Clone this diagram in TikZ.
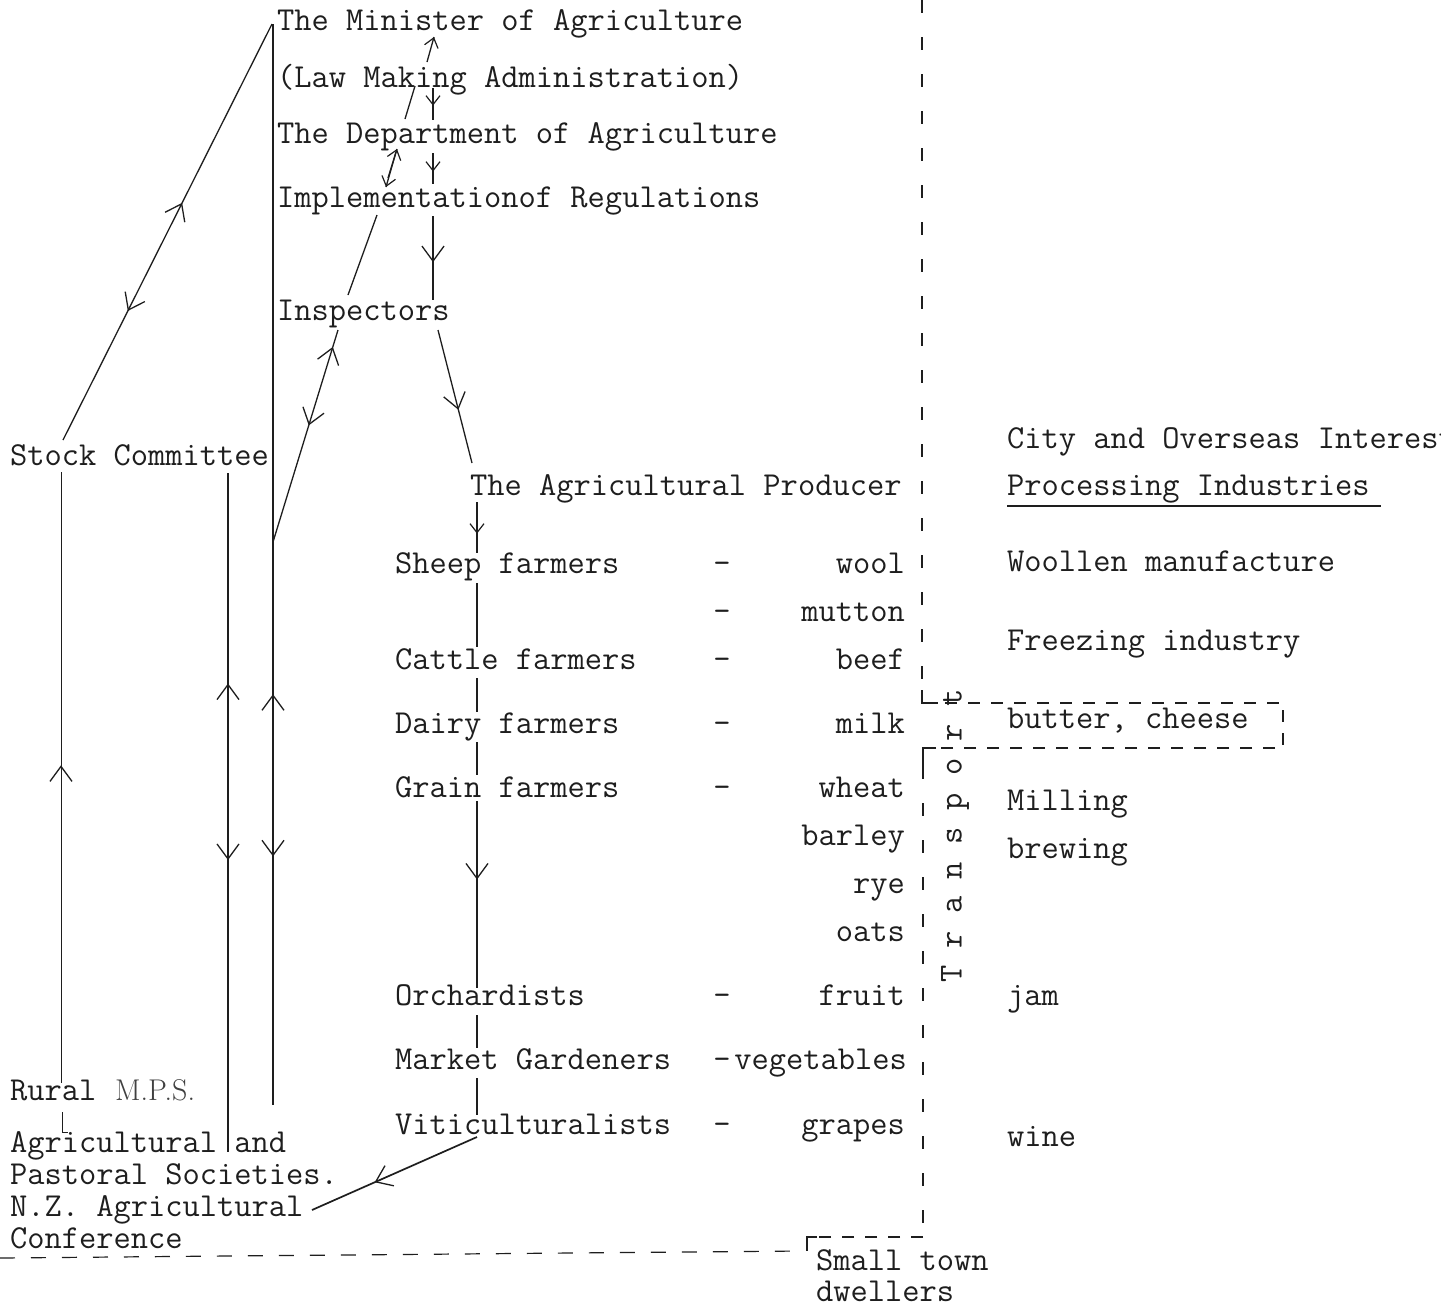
\documentclass[tikz,border=0pt]{standalone}
\usepackage{fontspec}
\usetikzlibrary{arrows.meta,decorations.markings}
\definecolor{ink}{HTML}{1E1E1E}
\newcommand\tyfont{\fontsize{33.5}{40}\selectfont\ttfamily\addfontfeatures{FakeBold=0.9}}
\newcommand\tytight{\fontsize{33.5}{31}\selectfont\ttfamily\addfontfeatures{FakeBold=0.9}}
\newcommand\hwfont{\fontsize{30}{36}\selectfont\rmfamily}
\tikzset{
  tw/.style={font=\tyfont, anchor=base west, inner sep=0pt, text=ink},
  te/.style={font=\tyfont, anchor=base east, inner sep=0pt, text=ink},
  tc/.style={font=\tyfont, anchor=base, inner sep=0pt, text=ink},
  ln/.style={draw=ink, line width=1.3pt},
  fw/.style={postaction={decorate,decoration={markings,
      mark=at position #1 with {\arrow[ink,line width=1.3pt]{Straight Barb[length=15pt,width=22pt]}}}}},
  bw/.style={postaction={decorate,decoration={markings,
      mark=at position #1 with {\arrowreversed[ink,line width=1.3pt]{Straight Barb[length=15pt,width=22pt]}}}}},
  sfw/.style={postaction={decorate,decoration={markings,
      mark=at position #1 with {\arrow[ink,line width=1.2pt]{Straight Barb[length=9pt,width=14pt]}}}}},
  dvert/.style={draw=ink, line width=1.5pt, dash pattern=on 13pt off 24pt},
  dbox/.style={draw=ink, line width=1.2pt, dash pattern=on 12pt off 11pt},
  dlow/.style={draw=ink, line width=1.2pt, dash pattern=on 15pt off 16pt},
}
\begin{document}
\begin{tikzpicture}[x=1pt,y=-1pt]
\useasboundingbox (0,0) rectangle (1441,1307);
\clip (0,0) rectangle (1441,1307);
\fill[white] (0,0) rectangle (1441,1307);

% ---------- top hierarchy ----------
\node[tw] (min)  at (277,30)  {The Minister of Agriculture};
\node[tw] (law)  at (277,87)  {(Law Making Administration)};
\node[tw] (dept) at (277,143) {The Department of Agriculture};
\node[tw] (impl) at (277,207) {Implementationof Regulations};
\node[tw] (insp) at (277,320) {Inspectors};

% ---------- producers ----------
\node[tw] (prod) at (470,495) {The Agricultural Producer};
\node[tw] (sheep)  at (395,573)  {Sheep farmers};
\node[tc] (d1)     at (722,573)  {-};
\node[te] (wool)   at (905,573)  {wool};
\node[tc] (d2)     at (722,621)  {-};
\node[te] (mutton) at (905,621)  {mutton};
\node[tw] (cattle) at (395,669)  {Cattle farmers};
\node[tc] (d3)     at (722,669)  {-};
\node[te] (beef)   at (905,669)  {beef};
\node[tw] (dairy)  at (395,733)  {Dairy farmers};
\node[tc] (d4)     at (722,733)  {-};
\node[te] (milk)   at (905,733)  {milk};
\node[tw] (grain)  at (395,797)  {Grain farmers};
\node[tc] (d5)     at (722,797)  {-};
\node[te] (wheat)  at (905,797)  {wheat};
\node[te] (barley) at (905,845)  {barley};
\node[te] (rye)    at (905,893)  {rye};
\node[te] (oats)   at (905,941)  {oats};
\node[tw] (orch)   at (395,1005) {Orchardists};
\node[tc] (d6)     at (722,1005) {-};
\node[te] (fruit)  at (905,1005) {fruit};
\node[tw] (market) at (395,1069) {Market Gardeners};
\node[tc] (d7)     at (722,1069) {-};
\node[te] (veg)    at (907,1069) {vegetables};
\node[tw] (viti)   at (395,1134) {Viticulturalists};
\node[tc] (d8)     at (722,1134) {-};
\node[te] (grapes) at (905,1134) {grapes};

% ---------- left ----------
\node[tw] (stock) at (10,465)  {Stock Committee};
\node[tw] (rural) at (10,1100) {Rural};
\node[anchor=base west, inner sep=0pt, font=\hwfont, text=ink!85] (mps) at (115,1100) {M.P.S.};
\node[tw] (agri)  at (10,1152) {Agricultural and};
\node[tw] (past)  at (10,1184) {Pastoral Societies.};
\node[tw] (nz)    at (10,1216) {N.Z. Agricultural};
\node[tw] (conf)  at (10,1248) {Conference};

% ---------- right ----------
\node[tw] (city)   at (1007,448)  {City and Overseas Interests};
\node[tw] (proc)   at (1007,495)  {Processing Industries};
\node[tw] (wooll)  at (1007,571)  {Woollen manufacture};
\node[tw] (freez)  at (1007,650)  {Freezing industry};
\node[tw] (butter) at (1007,728)  {butter, cheese};
\node[tw] (mill)   at (1007,810)  {Milling};
\node[tw] (brew)   at (1007,858)  {brewing};
\node[tw] (jam)    at (1007,1005) {jam};
\node[tw] (wine)   at (1007,1146) {wine};
\node[font=\tytight, anchor=north west, inner sep=0pt, align=left, text=ink] (small) at (816,1249) {Small town\\dwellers};
\node[font=\tyfont, rotate=90, inner sep=0pt, text=ink] (trans) at (955,836) {T r a n s p o r t};

\coordinate (ul1) at (1007,506);
\coordinate (ul2) at (1381,506);
\draw[draw=ink, line width=2.6pt] (ul1) -- (ul2);

% ---------- dashed frame ----------
\coordinate (q0) at (922,0);
\coordinate (q1) at (922,703);
\coordinate (q2) at (1283,703);
\coordinate (q3) at (1283,748);
\coordinate (q4) at (923,748);
\coordinate (q4b) at (923,766);
\coordinate (q5) at (923,1237);
\coordinate (q6) at (807,1237);
\coordinate (q7) at (807,1251);
\coordinate (b0) at (0,1258);
\coordinate (b1) at (800,1251);
\draw[dvert] (q0) -- (q1);
\draw[draw=ink, line width=1.5pt] (922,690) -- (q1) -- (938,703);
\draw[dbox] (q1) -- (q2) -- (q3) -- (q4);
\draw[draw=ink, line width=1.5pt] (936,748) -- (q4) -- (q4b);
\draw[dvert] (q4b) -- (q5);
\draw[dbox] (q5) -- (q6);
\draw[draw=ink, line width=1.4pt] (817,1237) -- (q6) -- (q7);
\draw[dlow] (b0) -- (b1);

% ---------- top connectors ----------
\coordinate (mtop) at (272,24);
\coordinate (stk)  at (63,440);
\draw[ln, bw=0.43, fw=0.69] (mtop) -- (stk);
\coordinate (v3t) at (273,24);
\coordinate (v3b) at (273,1105);
\draw[ln, bw=0.62, fw=0.77] (v3t) -- (v3b);
\coordinate (v2t) at (228,473);
\coordinate (v2b) at (228,1152);
\draw[ln, bw=0.31, fw=0.57] (v2t) -- (v2b);
\coordinate (v1t) at (61,472);
\coordinate (v1b) at (61,1083);
\draw[draw=ink, line width=1pt, bw=0.48] (v1t) -- (v1b);
\coordinate (v1c) at (62,1112);
\coordinate (v1d) at (62,1132);
\draw[draw=ink, line width=1pt] (v1c) -- (v1d) -- (68,1132);

% minister / law / department / implementation
\coordinate (a1s) at (427,62);
\coordinate (a1e) at (434,37);
\draw[ln, sfw=1] (a1s) -- (a1e);
\coordinate (s1s) at (405,119);
\coordinate (s1e) at (415,86);
\draw[ln] (s1s) -- (s1e);
\coordinate (a2s) at (433,88);
\coordinate (a2e) at (433,120);
\draw[ln, sfw=0.55] (a2s) -- (a2e);
\coordinate (a3s) at (396,152);
\coordinate (a3e) at (386,187);
\draw[ln, sfw=1] (a3s) -- (a3e);
\coordinate (a4s) at (388,178);
\coordinate (a4e) at (397,149);
\draw[ln, sfw=1] (a4s) -- (a4e);
\coordinate (a5s) at (433,153);
\coordinate (a5e) at (433,184);
\draw[ln, sfw=0.6] (a5s) -- (a5e);
\coordinate (s2s) at (377,215);
\coordinate (s2e) at (348,295);
\draw[ln] (s2s) -- (s2e);
\coordinate (a6s) at (433,216);
\coordinate (a6e) at (433,300);
\draw[ln, fw=0.55] (a6s) -- (a6e);

% inspectors
\coordinate (i1s) at (338,330);
\coordinate (i1e) at (273,542);
\draw[ln, bw=0.08, fw=0.45] (i1s) -- (i1e);
\coordinate (i2s) at (438,330);
\coordinate (i2e) at (472,463);
\draw[ln, fw=0.6] (i2s) -- (i2e);

% producer chain
\coordinate (p0) at (477,502);
\coordinate (p1) at (477,553);
\draw[ln, sfw=0.62] (p0) -- (p1);
\coordinate (c1) at (477,583);  \coordinate (c2) at (477,647);
\draw[ln] (c1) -- (c2);
\coordinate (c3) at (477,678);  \coordinate (c4) at (477,712);
\draw[ln] (c3) -- (c4);
\coordinate (c5) at (477,742);  \coordinate (c6) at (477,775);
\draw[ln] (c5) -- (c6);
\coordinate (c7) at (477,801);  \coordinate (c8) at (477,988);
\draw[ln, fw=0.42] (c7) -- (c8);
\coordinate (c9) at (477,1015); \coordinate (c10) at (477,1048);
\draw[ln] (c9) -- (c10);
\coordinate (c11) at (477,1078); \coordinate (c12) at (477,1115);
\draw[ln] (c11) -- (c12);

% viticulturalists to N.Z. conference
\coordinate (vz1) at (477,1137);
\coordinate (vz2) at (312,1210);
\draw[draw=ink, line width=1.7pt, fw=0.62] (vz1) -- (vz2);
\end{tikzpicture}
\end{document}
